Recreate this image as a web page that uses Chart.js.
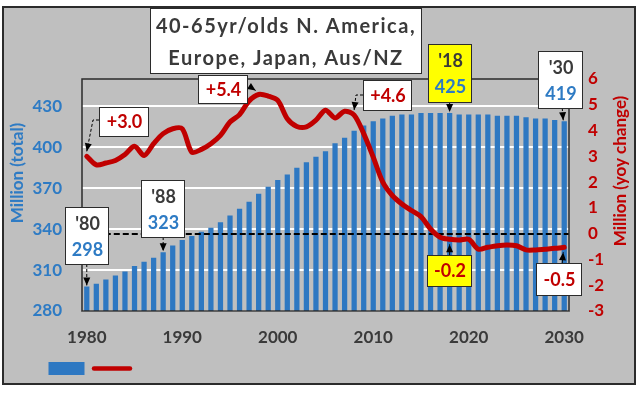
<!DOCTYPE html>
<html>
<head>
<meta charset="utf-8">
<script src="https://cdn.jsdelivr.net/npm/chart.js@4.4.1/dist/chart.umd.min.js"></script>
<style>
  html, body { margin: 0; padding: 0; background: #fff; }
  canvas { display: block; }
</style>
</head>
<body>
<canvas id="popChart" width="640" height="393"></canvas>
<script>
// 40-65 year olds, N. America + Europe + Japan + Aus/NZ
const years = [
  1980, 1981, 1982, 1983, 1984, 1985, 1986, 1987, 1988, 1989,
  1990, 1991, 1992, 1993, 1994, 1995, 1996, 1997, 1998, 1999,
  2000, 2001, 2002, 2003, 2004, 2005, 2006, 2007, 2008, 2009,
  2010, 2011, 2012, 2013, 2014, 2015, 2016, 2017, 2018, 2019,
  2020, 2021, 2022, 2023, 2024, 2025, 2026, 2027, 2028, 2029,
  2030
];
// total, millions (left axis)
const popTotal = [
  298, 300, 303, 306, 309, 313, 316, 319, 323, 328,
  332, 335, 338, 341, 345, 350, 355, 360, 366, 371,
  376, 380, 385, 389, 393, 397, 403, 407, 412, 416,
  419, 421, 423, 424, 424, 425, 425, 425, 425, 424,
  424, 424, 424, 423, 423, 423, 422, 421, 421, 420,
  419
];
// yoy change, millions (right axis)
const yoyChange = [
  3.0, 2.67, 2.74, 2.84, 3.07, 3.39, 3.03, 3.49, 3.88, 4.07,
  4.07, 3.16, 3.27, 3.49, 3.81, 4.33, 4.62, 5.15, 5.4, 5.34,
  5.17, 4.46, 4.16, 4.14, 4.4, 4.79, 4.49, 4.75, 4.6, 3.88,
  2.97, 2.0, 1.48, 1.15, 0.9, 0.66, 0.18, -0.14, -0.22, -0.25,
  -0.22, -0.6, -0.53, -0.47, -0.44, -0.47, -0.63, -0.63, -0.6, -0.57,
  -0.53
];
const leftTicks = [280, 310, 340, 370, 400, 430];
const rightTicks = [-3, -2, -1, 0, 1, 2, 3, 4, 5, 6];

const BAR_BLUE = '#2E78C2';
const BLUE_TXT = '#2E7BC4';
const RED = '#C00000';
const DARK = '#3A3A3A';
const FONT = "Lato, 'DejaVu Sans', sans-serif";

Chart.defaults.font.family = FONT;
Chart.defaults.font.weight = 'bold';

// callout boxes: [x, y, w, h] in pixels, arrow drawn to the data point
const callouts = [
  {ds: 1, year: 1980, box: [99, 107, 49, 29], fill: '#fff', path: t => [[99, 120], [93, 120]], tip: [0, -5]},
  {ds: 1, year: 1998, box: [198, 75, 49, 28], fill: '#fff', path: t => [[249, 86]], tip: [-3, -4]},
  {ds: 1, year: 2008, box: [363, 80, 48, 30], fill: '#fff', path: t => [[363, 95], [356, 95]], tip: [0, -5]},
  {ds: 0, year: 2018, box: [428, 44, 43, 58], fill: '#FFFF00', path: t => [[t.x, 102]], tip: [0, -1], head: "'18"},
  {ds: 0, year: 2030, box: [538, 51, 44, 57], fill: '#fff', path: t => [[t.x - 2, 108]], tip: [-1, -1], head: "'30"},
  {ds: 0, year: 1980, box: [65, 207, 43, 57], fill: '#fff', path: t => [[t.x, 264]], tip: [0, -1], head: "'80"},
  {ds: 0, year: 1988, box: [141, 180, 43, 57], fill: '#fff', path: t => [[t.x, 237]], tip: [0, -1], head: "'88"},
  {ds: 1, year: 2018, box: [427, 255, 44, 31], fill: '#FFFF00', path: t => [[t.x, 255]], tip: [0, 5]},
  {ds: 1, year: 2030, box: [536, 263, 45, 32], fill: '#fff', path: t => [[t.x - 2, 263]], tip: [-1, 5]}
];

function drawArrow(c, pts, tip) {
  c.save();
  c.strokeStyle = '#000';
  c.fillStyle = '#000';
  c.lineWidth = 1;
  c.setLineDash([3, 2]);
  c.beginPath();
  c.moveTo(pts[0][0], pts[0][1]);
  for (let i = 1; i < pts.length; i++) c.lineTo(pts[i][0], pts[i][1]);
  c.lineTo(tip[0], tip[1]);
  c.stroke();
  c.setLineDash([]);
  const from = pts[pts.length - 1];
  const ang = Math.atan2(tip[1] - from[1], tip[0] - from[0]);
  const len = 8, half = 3.5;
  c.beginPath();
  c.moveTo(tip[0], tip[1]);
  c.lineTo(tip[0] - len * Math.cos(ang) + half * Math.sin(ang), tip[1] - len * Math.sin(ang) - half * Math.cos(ang));
  c.lineTo(tip[0] - len * Math.cos(ang) - half * Math.sin(ang), tip[1] - len * Math.sin(ang) + half * Math.cos(ang));
  c.closePath();
  c.fill();
  c.restore();
}

const decor = {
  id: 'decor',
  beforeDraw(chart) {
    const c = chart.ctx;
    c.save();
    c.fillStyle = '#fff';
    c.fillRect(0, 0, chart.width, chart.height);
    c.fillStyle = '#BFBFBF';
    c.fillRect(3, 7, 632, 377);
    c.lineWidth = 2;
    c.strokeStyle = '#2b2b2b';
    c.strokeRect(3, 7, 632, 377);
    c.restore();
  },
  afterDatasetDraw(chart, args) {
    if (args.index !== 0) return;
    // zero line of the yoy axis, over the bars, under the red line
    const c = chart.ctx;
    const y = Math.round(chart.scales.y1.getPixelForValue(0));
    c.save();
    c.strokeStyle = '#000';
    c.lineWidth = 2;
    c.setLineDash([6, 3]);
    c.beginPath();
    c.moveTo(chart.scales.x.getPixelForValue(0), y);
    c.lineTo(chart.chartArea.right, y);
    c.stroke();
    c.restore();
  },
  afterDatasetsDraw(chart) {
    const c = chart.ctx;
    const a = chart.chartArea;
    c.save();
    c.strokeStyle = '#2b2b2b';
    c.lineWidth = 1.5;
    c.strokeRect(a.left, a.top, a.right - a.left, a.bottom - a.top);
    c.restore();
  },
  afterDraw(chart) {
    const c = chart.ctx;
    c.save();
    // axis titles
    c.font = 'bold 17px ' + FONT;
    c.textAlign = 'center';
    c.textBaseline = 'middle';
    c.save();
    c.translate(18, 173);
    c.rotate(-Math.PI / 2);
    c.fillStyle = BLUE_TXT;
    c.fillText('Million (total)', 0, 0);
    c.restore();
    c.save();
    c.translate(621, 171);
    c.rotate(-Math.PI / 2);
    c.fillStyle = RED;
    c.fillText('Million (yoy change)', 0, 0);
    c.restore();

    // title box
    c.fillStyle = '#fff';
    c.fillRect(150, 8, 271, 65);
    c.lineWidth = 1;
    c.strokeStyle = '#2b2b2b';
    c.strokeRect(150.5, 8.5, 271, 65);
    c.fillStyle = DARK;
    c.font = 'bold 20px ' + FONT;
    c.letterSpacing = '1.5px';
    c.fillText('40-65yr/olds N. America,', 286, 27);
    c.fillText('Europe, Japan, Aus/NZ', 286, 59);
    c.letterSpacing = '0px';

    // callouts
    c.font = 'bold 18px ' + FONT;
    callouts.forEach(co => {
      const i = years.indexOf(co.year);
      const el = chart.getDatasetMeta(co.ds).data[i];
      const t = {x: el.x, y: el.y};
      const [bx, by, bw, bh] = co.box;
      drawArrow(c, co.path(t), [t.x + co.tip[0], t.y + co.tip[1]]);
      c.fillStyle = co.fill;
      c.fillRect(bx, by, bw, bh);
      c.strokeStyle = '#2b2b2b';
      c.lineWidth = 1;
      c.strokeRect(bx + 0.5, by + 0.5, bw, bh);
      const cx = bx + bw / 2 + 1;
      if (co.ds === 0) {
        c.fillStyle = DARK;
        c.fillText(co.head, cx, by + 17);
        c.fillStyle = BLUE_TXT;
        c.fillText(String(popTotal[i]), cx, by + 43);
      } else {
        const v = yoyChange[i];
        c.fillStyle = RED;
        c.fillText((v >= 0 ? '+' : '') + v.toFixed(1), cx, by + bh / 2 + 1);
      }
    });
    c.restore();
  }
};

new Chart(document.getElementById('popChart'), {
  type: 'bar',
  data: {
    labels: years,
    datasets: [
      {
        type: 'bar',
        data: popTotal,
        yAxisID: 'y',
        backgroundColor: BAR_BLUE,
        barPercentage: 0.55,
        categoryPercentage: 1.0,
        order: 2
      },
      {
        type: 'line',
        data: yoyChange,
        yAxisID: 'y1',
        borderColor: RED,
        borderWidth: 5,
        pointRadius: 0,
        tension: 0.3,
        fill: false,
        borderCapStyle: 'round',
        borderJoinStyle: 'round',
        order: 1
      }
    ]
  },
  options: {
    responsive: false,
    animation: false,
    layout: {padding: {top: 79, left: 0, right: 0, bottom: 8}},
    plugins: {
      title: {display: false},
      tooltip: {enabled: false},
      legend: {
        position: 'bottom',
        align: 'start',
        labels: {
          usePointStyle: true,
          pointStyleWidth: 36,
          boxHeight: 13,
          padding: 3,
          font: {size: 13},
          // first entry is an empty spacer so the swatches sit under the axis
          generateLabels: () => [
            {text: '', fillStyle: 'rgba(0,0,0,0)', strokeStyle: 'rgba(0,0,0,0)', lineWidth: 0, pointStyle: 'rect'},
            {text: '', fillStyle: BAR_BLUE, strokeStyle: BAR_BLUE, lineWidth: 0, pointStyle: 'rect', datasetIndex: 0},
            {text: '', fillStyle: RED, strokeStyle: RED, lineWidth: 4.5, lineCap: 'round', pointStyle: 'line', datasetIndex: 1}
          ]
        }
      }
    },
    scales: {
      x: {
        offset: true,
        grid: {display: false, drawTicks: false},
        border: {display: false},
        ticks: {
          autoSkip: false, maxRotation: 0, minRotation: 0, padding: 16,
          color: DARK, font: {size: 17, weight: 'bold'},
          callback: (v, i) => (years[i] % 10 === 0 ? String(years[i]) : '')
        },
        afterFit: s => { s.height = 48; }
      },
      y: {
        position: 'left',
        min: 280,
        max: 450,
        afterBuildTicks: s => { s.ticks = leftTicks.map(v => ({value: v})); },
        grid: {color: '#fff', lineWidth: 2, drawTicks: false},
        border: {display: false},
        ticks: {padding: 20, color: BLUE_TXT, font: {size: 17, weight: 'bold'}},
        afterFit: s => { s.width = 82; }
      },
      y1: {
        position: 'right',
        min: -3,
        max: 6,
        afterBuildTicks: s => { s.ticks = rightTicks.map(v => ({value: v})); },
        grid: {drawOnChartArea: false, drawTicks: false},
        border: {display: false},
        ticks: {padding: 19, color: RED, font: {size: 17, weight: 'bold'}},
        afterFit: s => { s.width = 71; }
      }
    }
  },
  plugins: [decor]
});
</script>
</body>
</html>
